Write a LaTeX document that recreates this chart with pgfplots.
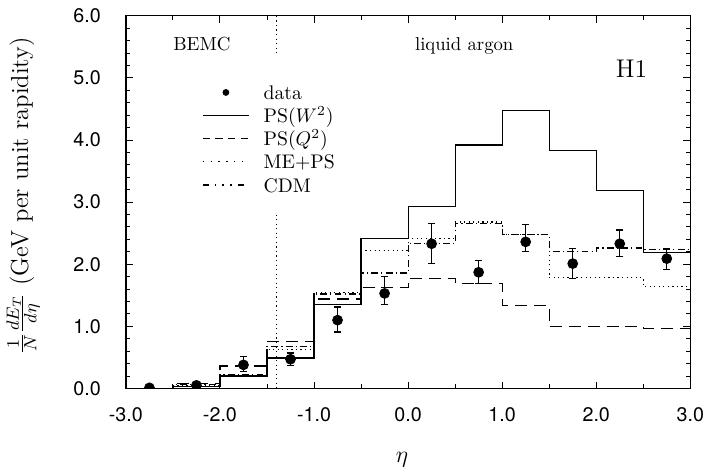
\documentclass[border=0pt]{standalone}
\usepackage{fontspec}
\usepackage{pgfplots}
\usepackage{pgfplotstable}
\pgfplotsset{compat=1.18}
\newfontfamily\tickfont{TeX Gyre Heros}
\tikzset{
 psw/.style={line width=0.6bp},
 psq/.style={line width=0.6bp, dash pattern=on 6bp off 3.5bp},
 meps/.style={line width=0.6bp, dash pattern=on 0.6bp off 1.7bp},
 cdm/.style={line width=0.6bp, dash pattern=on 3.5bp off 1.6bp on 0.6bp off 1.6bp},
}

\pgfplotstableread{
x y ep em
-2.75 0.01 0 0
-2.25 0.05 0.02 0.02
-1.75 0.38 0.14 0.11
-1.25 0.47 0.10 0.10
-0.75 1.10 0.21 0.19
-0.25 1.53 0.27 0.18
0.25 2.33 0.33 0.32
0.75 1.87 0.19 0.18
1.25 2.36 0.28 0.16
1.75 2.01 0.24 0.24
2.25 2.33 0.22 0.21
2.75 2.09 0.16 0.17
}\datatab

\pgfplotstableread{
x w q me cdm
-3.0 0 0 0 0
-2.5 0.03 0.08 0.05 0.06
-2.0 0.20 0.36 0.21 0.22
-1.5 0.49 0.75 0.63 0.68
-1.0 1.35 1.44 1.55 1.52
-0.5 2.41 1.63 2.22 1.86
0.0 2.93 1.77 2.42 2.33
0.5 3.92 1.69 2.68 2.66
1.0 4.47 1.34 2.48 2.48
1.5 3.83 1.00 1.78 2.20
2.0 3.19 1.00 1.78 2.26
2.5 2.19 0.97 1.64 2.24
3.0 2.19 0.97 1.64 2.24
}\histtab

\begin{document}
\begin{tikzpicture}
\begin{axis}[
 name=ax,
 scale only axis,
 width=285.5bp, height=188.5bp,
 xmin=-3, xmax=3, ymin=0, ymax=6,
 xtick={-3,-2,-1,0,1,2,3},
 ytick={0,1,2,3,4,5,6},
 minor x tick num=1,
 minor y tick num=4,
 tick align=inside,
 major tick length=3.5bp,
 minor tick length=2bp,
 every tick/.style={black, line width=0.5bp},
 axis line style={line width=0.7bp},
 /pgf/number format/.cd, fixed, fixed zerofill, precision=1, assume math mode=true,
 /pgfplots/.cd,
 xticklabel style={font=\fontsize{10}{12}\tickfont, inner sep=0pt, yshift=-9.5bp},
 yticklabel style={font=\fontsize{10}{12}\tickfont, inner sep=0pt, xshift=-12.5bp},
 xlabel={$\eta$},
 xlabel style={at={(axis description cs:0.489,-0.191)}, anchor=center, font=\fontsize{13}{15}\selectfont},
 ylabel={$\frac{1}{N}\frac{dE_T}{d\eta}$ (GeV per unit rapidity)},
 ylabel style={at={(axis description cs:-0.182,0.517)}, anchor=center, font=\fontsize{12.5}{15}\selectfont},
 clip=true,
 clip marker paths=true,
 legend cell align=left,
 legend style={at={(axis description cs:0.135,0.819)}, anchor=north west, draw=none, fill=none,
   inner sep=0pt, outer sep=0pt, row sep=0pt, column sep=6bp,
   font=\fontsize{10}{12}\selectfont,
   nodes={inner sep=1.05bp, text height=7.2bp, text depth=2.4bp}},
]
\addlegendimage{legend image code/.code={\fill (11.75bp,1.2bp) circle (1.5bp);}}
\addlegendentry{data}
\addlegendimage{legend image code/.code={\draw[psw] (0bp,1.2bp) -- (23.5bp,1.2bp);}}
\addlegendentry{PS($W^2$)}
\addlegendimage{legend image code/.code={\draw[line width=0.6bp, dash pattern=on 3.8bp off 2.6bp] (0bp,1.2bp) -- (23.5bp,1.2bp);}}
\addlegendentry{PS($Q^2$)}
\addlegendimage{legend image code/.code={\draw[meps, dash pattern=on 0.6bp off 3.4bp] (0bp,1.2bp) -- (23.5bp,1.2bp);}}
\addlegendentry{ME+PS}
\addlegendimage{legend image code/.code={\draw[line width=0.6bp, dash pattern=on 3bp off 3bp on 0.6bp off 3.4bp on 0.6bp off 3.4bp on 0.6bp off 3.4bp] (0bp,1.2bp) -- (23.5bp,1.2bp);}}
\addlegendentry{CDM}

\addplot[forget plot, const plot, meps] table[x=x, y=me] {\histtab};
\addplot[forget plot, const plot, cdm] table[x=x, y=cdm] {\histtab};
\addplot[forget plot, const plot, psq] table[x=x, y=q] {\histtab};
\addplot[forget plot, const plot, psw] table[x=x, y=w] {\histtab};

\addplot[forget plot, meps] coordinates {(-1.4,6) (-1.4,5.35)};
\addplot[forget plot, meps] coordinates {(-1.4,2.8) (-1.4,0)};

\addplot[forget plot, only marks, mark=*, mark size=2.5bp, black,
  error bars/.cd, y dir=both, y explicit, error mark=|,
  error bar style={line width=0.6bp, black},
  error mark options={black, mark size=1.75bp, line width=0.6bp, solid}]
  table[x=x, y=y, y error plus=ep, y error minus=em] {\datatab};

\node[anchor=base west, font=\fontsize{9.6}{12}\selectfont] at (axis cs:-2.57,5.44) {BEMC};
\node[anchor=base west, font=\fontsize{9.5}{12}\selectfont] at (axis cs:0.0,5.44) {liquid argon};
\node[anchor=base west, font=\fontsize{13}{15}\selectfont] at (axis cs:2.135,5.0) {H1};
\end{axis}
\path (ax.north west) -- ++(0,8bp);
\end{tikzpicture}
\end{document}
